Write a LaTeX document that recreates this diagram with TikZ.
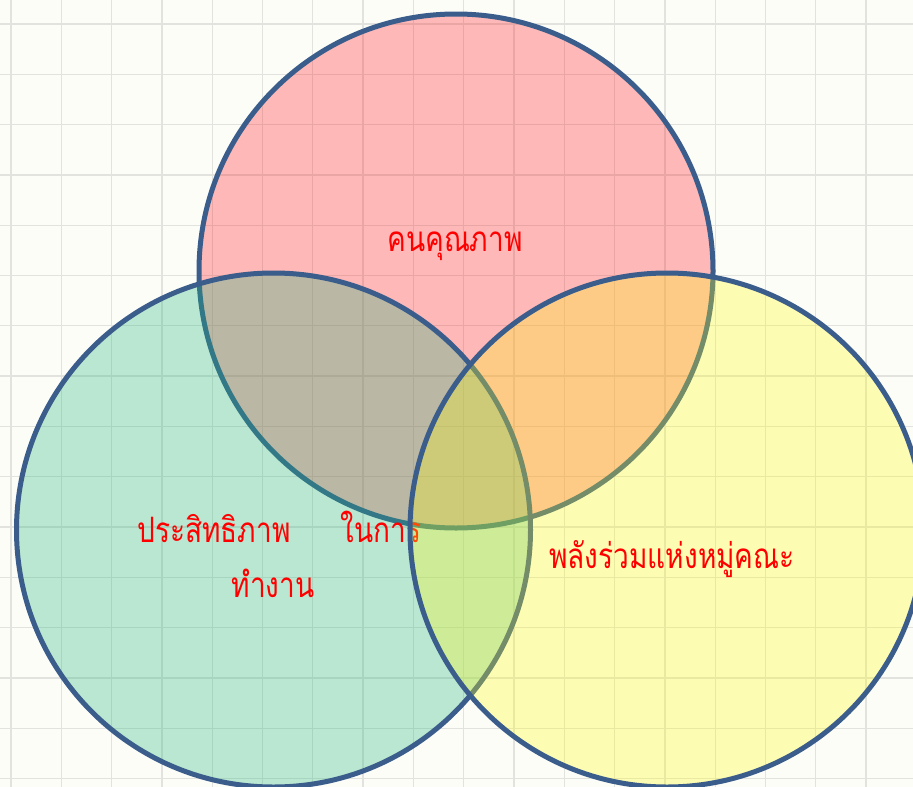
\documentclass[tikz,border=0pt]{standalone}
\usepackage{fontspec}
\newfontfamily\thaifont[Script=Thai]{Loma}
\definecolor{bgc}{HTML}{FDFDF8}
\definecolor{gridc}{HTML}{E2E2DE}
\definecolor{edgec}{HTML}{3A5D8C}
\definecolor{redc}{HTML}{FF1A24}
\definecolor{greenc}{HTML}{21B779}
\definecolor{yellowc}{HTML}{FDFA15}
\newcommand{\thaitxt}[1]{\scalebox{0.8}[1]{#1}}
\tikzset{
  venn/.style={circle, minimum size=514pt, inner sep=0pt, outer sep=0pt, draw=edgec, line width=5pt, fill opacity=0.3, draw opacity=1},
  lbl/.style={text=red, font=\thaifont\fontsize{35}{40}\selectfont, inner sep=0pt, anchor=base},
  gridline/.style={draw=gridc, line width=1.3pt}
}
\begin{document}
\begin{tikzpicture}[x=1pt,y=-1pt]
\useasboundingbox (0,0) rectangle (913,787);
\clip (0,0) rectangle (913,787);
\fill[bgc] (0,0) rectangle (913,787);
\foreach \i in {0,...,18} \draw[gridline] ({11+50.3*\i},0) -- ({11+50.3*\i},787);
\foreach \i in {0,...,15} \draw[gridline] (0,{24+50.3*\i}) -- (913,{24+50.3*\i});
\node[venn, fill=redc] (top) at (456,271) {};
\node[lbl] (tq) at (455,251) {\thaitxt{คนคุณภาพ}};
\node[venn, fill=greenc] (left) at (273.5,530) {};
\node[lbl] (le1) at (214,542) {\thaitxt{ประสิทธิภาพ}};
\node[lbl] (le2) at (381,542) {\thaitxt{ในการ}};
\node[lbl] (le3) at (273,597) {\thaitxt{ทำงาน}};
\node[venn, fill=yellowc] (right) at (667,530) {};
\node[lbl] (rt) at (672,568) {\thaitxt{พลังร่วมแห่งหมู่คณะ}};
\end{tikzpicture}
\end{document}
